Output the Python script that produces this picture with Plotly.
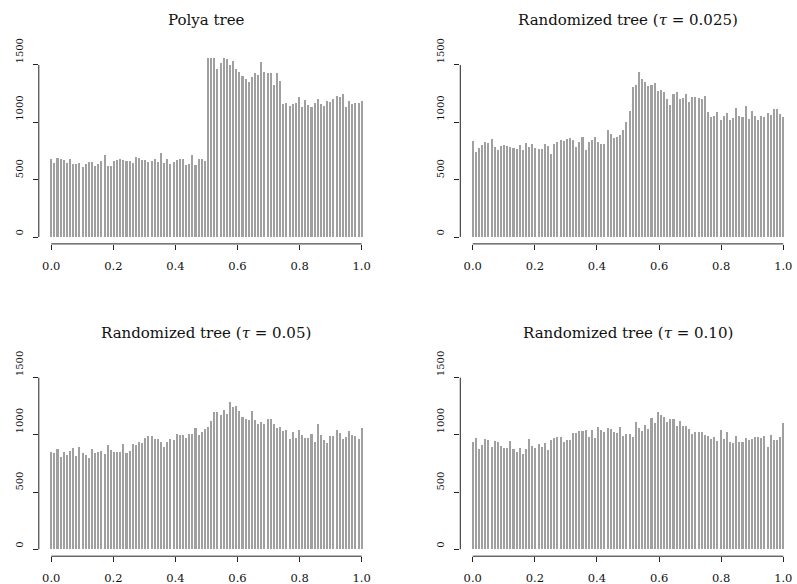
import numpy as np
import plotly.graph_objects as go
from plotly.subplots import make_subplots

# ---- data -------------------------------------------------------------
x_pos = np.linspace(0, 1, 100)

polya = [680, 642, 689, 683, 671, 642, 677, 639, 637, 642,
         607, 634, 654, 654, 622, 637, 666, 715, 619, 619,
         663, 669, 680, 674, 663, 666, 648, 700, 692, 671,
         674, 657, 660, 677, 651, 735, 648, 680, 639, 657,
         669, 680, 680, 628, 639, 718, 628, 677, 677, 663,
         1600, 1600, 1600, 1465, 1515, 1561, 1549, 1503, 1535, 1465,
         1436, 1404, 1375, 1352, 1392, 1427, 1413, 1523, 1442, 1427,
         1427, 1328, 1427, 1360, 1160, 1165, 1145, 1157, 1165, 1218,
         1130, 1195, 1151, 1130, 1165, 1203, 1160, 1145, 1186, 1180,
         1200, 1229, 1223, 1247, 1130, 1186, 1160, 1165, 1171, 1186]

rand_025 = [837, 744, 773, 802, 831, 817, 852, 788, 759, 797,
            802, 794, 788, 779, 768, 802, 759, 823, 788, 811,
            773, 768, 768, 811, 797, 724, 808, 826, 846, 837,
            855, 866, 846, 788, 826, 869, 759, 831, 846, 875,
            831, 808, 808, 933, 895, 860, 875, 889, 933, 1000,
            1101, 1305, 1325, 1442, 1374, 1348, 1316, 1325, 1340, 1276,
            1282, 1261, 1200, 1151, 1244, 1267, 1200, 1215, 1247, 1180,
            1218, 1218, 1212, 1203, 1232, 1093, 1049, 1055, 1087, 1020,
            1055, 1078, 1020, 1040, 1122, 1055, 1044, 1142, 1026, 1101,
            1055, 1020, 1058, 1044, 1084, 1064, 1113, 1119, 1072, 1044]

rand_05 = [853, 844, 876, 809, 847, 824, 859, 888, 815, 891,
           838, 824, 795, 876, 844, 847, 859, 832, 911, 868,
           847, 853, 853, 917, 844, 859, 917, 911, 940, 932,
           976, 994, 994, 961, 961, 940, 891, 940, 964, 952,
           1005, 999, 999, 970, 1005, 1005, 1057, 999, 1028, 1048,
           1069, 1122, 1197, 1197, 1174, 1217, 1179, 1284, 1246, 1255,
           1211, 1153, 1136, 1127, 1209, 1127, 1092, 1110, 1092, 1136,
           1136, 1092, 1063, 1072, 1037, 1040, 961, 1028, 976, 1046,
           999, 976, 976, 1005, 940, 1092, 999, 955, 932, 994,
           994, 1043, 1019, 967, 982, 1034, 999, 990, 967, 1057]

rand_10 = [941, 976, 874, 912, 964, 952, 897, 950, 941, 903,
           882, 888, 947, 874, 853, 888, 830, 877, 964, 906,
           882, 920, 891, 926, 868, 955, 970, 982, 982, 938,
           958, 958, 1014, 1016, 1034, 1037, 1043, 985, 1043, 970,
           1066, 1040, 1028, 1063, 1052, 1028, 1014, 1072, 990, 1008,
           1011, 985, 1110, 1058, 1034, 1086, 1052, 1145, 1101, 1203,
           1174, 1154, 1110, 1136, 1136, 1081, 1124, 1081, 1081, 1052,
           1008, 1028, 1023, 1023, 999, 993, 961, 985, 947, 1043,
           961, 1023, 941, 929, 987, 935, 935, 976, 952, 961,
           979, 979, 970, 990, 897, 1002, 955, 955, 982, 1101]

panel_titles = ["Polya tree",
                "Randomized tree (<i>τ</i> = 0.025)",
                "Randomized tree (<i>τ</i> = 0.05)",
                "Randomized tree (<i>τ</i> = 0.10)"]

x_tickvals = [0.0, 0.2, 0.4, 0.6, 0.8, 1.0]
x_ticktext = ["0.0", "0.2", "0.4", "0.6", "0.8", "1.0"]
y_tickvals = [0, 500, 1000, 1500]
y_ticktext = ["0", "500", "1000", "1500"]

series = [polya, rand_025, rand_05, rand_10]

# ---- figure -----------------------------------------------------------
W, H = 797, 584
FONT = "DejaVu Serif"
BAR_COLOR = "#a0a0a0"
FIG_SPACE = "\u2007"

# y labels start at the tick and read upward, as in the reference
y_ticktext_shifted = [FIG_SPACE * len(t) + t for t in y_ticktext]

fig = make_subplots(rows=2, cols=2)

positions = [(1, 1), (1, 2), (2, 1), (2, 2)]
for s, (r, c) in zip(series, positions):
    fig.add_trace(go.Bar(x=x_pos, y=s, width=0.0066,
                         marker=dict(color=BAR_COLOR, line=dict(width=0)),
                         showlegend=False, hoverinfo="x+y"), row=r, col=c)

# panel domains in pixels
xdom_px = [(38.8, 374.1), (460.3, 795.7)]
ydom_px = [(58.1, 243.9), (370.8, 556.2)]  # top, bottom
title_px = [20, 333]

def px_x(a, b):
    return [a / W, b / W]

def px_y(top, bottom):
    return [1 - bottom / H, 1 - top / H]

shapes = []
annotations = []
for i, (r, c) in enumerate(positions):
    idx = "" if i == 0 else str(i + 1)
    xa = "xaxis" + idx
    ya = "yaxis" + idx
    xd = px_x(*xdom_px[c - 1])
    yd = px_y(*ydom_px[r - 1])
    fig.layout[xa].update(domain=xd, range=[-0.04, 1.04], showgrid=False,
                          zeroline=False, showline=False, ticks="outside",
                          ticklen=5, tickwidth=1, tickcolor="#222",
                          tickvals=x_tickvals, ticktext=x_ticktext,
                          tickfont=dict(family=FONT, size=11.5, color="#111"),
                          ticklabelstandoff=6, automargin=False,
                          fixedrange=True)
    fig.layout[ya].update(domain=yd, range=[-60, 1560], showgrid=False,
                          zeroline=False, showline=False, ticks="outside",
                          ticklen=5, tickwidth=1, tickcolor="#222",
                          tickvals=y_tickvals, ticktext=y_ticktext_shifted,
                          tickangle=-90,
                          tickfont=dict(family=FONT, size=10, color="#111"),
                          ticklabelstandoff=6, automargin=False,
                          fixedrange=True)
    xr = "x" + idx
    yr = "y" + idx
    shapes.append(dict(type="line", xref=xr, yref=yr + " domain",
                       x0=0, x1=1, y0=0, y1=0,
                       line=dict(color="#222", width=1)))
    shapes.append(dict(type="line", xref=xr + " domain", yref=yr,
                       x0=0, x1=0, y0=0, y1=1500,
                       line=dict(color="#222", width=1)))
    annotations.append(dict(text=panel_titles[i], xref=xr + " domain",
                            yref="paper", x=0.5,
                            y=1 - title_px[r - 1] / H, xanchor="center",
                            yanchor="middle", showarrow=False,
                            font=dict(family=FONT, size=15, color="#111")))

fig.update_layout(width=W, height=H, margin=dict(l=0, r=0, t=0, b=0, pad=0),
                  autosize=False,
                  paper_bgcolor="white", plot_bgcolor="white",
                  bargap=0, shapes=shapes, annotations=annotations,
                  font=dict(family=FONT, color="#111"))

fig.write_html("out.html",
               config=dict(displayModeBar=False, staticPlot=True),
               post_script="document.body.style.margin='0';"
                           "document.body.style.overflow='hidden';")
